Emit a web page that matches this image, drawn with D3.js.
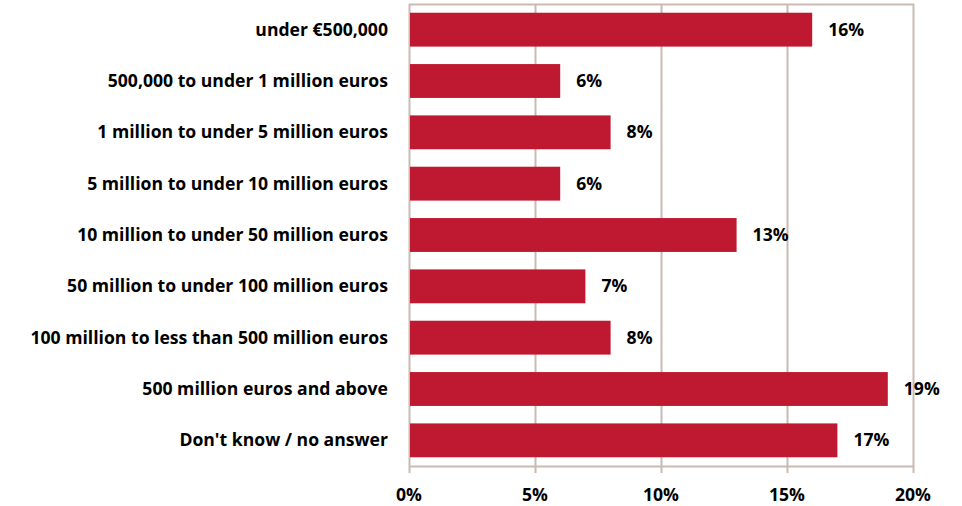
<!DOCTYPE html>
<html>
<head>
<meta charset="utf-8">
<script src="https://cdn.jsdelivr.net/npm/d3@7"></script>
<style>
  body { margin: 0; background: #fff; }
  text { font-family: "Open Sans", Lato, sans-serif; font-weight: bold; fill: #000; }
</style>
</head>
<body>
<div id="container"></div>
<script>
let w = 962;
let h = 506;

let categories = [
  "under €500,000",
  "500,000 to under 1 million euros",
  "1 million to under 5 million euros",
  "5 million to under 10 million euros",
  "10 million to under 50 million euros",
  "50 million to under 100 million euros",
  "100 million to less than 500 million euros",
  "500 million euros and above",
  "Don't know / no answer"
];
let values = [16, 6, 8, 6, 13, 7, 8, 19, 17];
let ticks = [0, 5, 10, 15, 20];

let margin = { top: 4, right: 49, bottom: 40, left: 409 };
let fontSize = "17.6px";

let svg = d3.select("#container").append("svg")
            .attr("width", w)
            .attr("height", h);

let xScale = d3.scaleLinear()
               .domain([0, 20])
               .range([margin.left, w - margin.right]);

let yScale = d3.scaleBand()
               .domain(categories)
               .range([margin.top, h - margin.bottom])
               .paddingInner(0.34)
               .paddingOuter(0.17);

let gridColor = "#c9bab2";

// vertical gridlines + frame
svg.append("g")
   .selectAll("line")
   .data(ticks)
   .enter()
   .append("line")
   .attr("x1", d => xScale(d) + 0.5)
   .attr("x2", d => xScale(d) + 0.5)
   .attr("y1", margin.top)
   .attr("y2", h - margin.bottom + 7)
   .attr("stroke", gridColor)
   .attr("stroke-width", 2);

svg.append("line")
   .attr("x1", xScale(0))
   .attr("x2", xScale(20) + 1)
   .attr("y1", margin.top + 0.5)
   .attr("y2", margin.top + 0.5)
   .attr("stroke", gridColor)
   .attr("stroke-width", 2);

svg.append("line")
   .attr("x1", xScale(0))
   .attr("x2", xScale(20) + 1)
   .attr("y1", h - margin.bottom + 0.5)
   .attr("y2", h - margin.bottom + 0.5)
   .attr("stroke", gridColor)
   .attr("stroke-width", 2);

// bars
svg.append("g")
   .selectAll("rect")
   .data(values)
   .enter()
   .append("rect")
   .attr("x", xScale(0) + 1)
   .attr("y", (d, i) => yScale(categories[i]))
   .attr("width", d => xScale(d) - xScale(0) - 1)
   .attr("height", yScale.bandwidth())
   .attr("fill", "#bf1932");

// value labels
svg.append("g")
   .selectAll("text")
   .data(values)
   .enter()
   .append("text")
   .attr("x", d => xScale(d) + 16)
   .attr("y", (d, i) => yScale(categories[i]) + yScale.bandwidth() / 2)
   .attr("dy", "0.35em")
   .style("font-size", fontSize)
   .text(d => d + "%");

// category labels
svg.append("g")
   .selectAll("text")
   .data(categories)
   .enter()
   .append("text")
   .attr("x", 388)
   .attr("y", d => yScale(d) + yScale.bandwidth() / 2)
   .attr("dy", "0.35em")
   .attr("text-anchor", "end")
   .style("font-size", fontSize)
   .text(d => d);

// x tick labels
svg.append("g")
   .selectAll("text")
   .data(ticks)
   .enter()
   .append("text")
   .attr("x", d => xScale(d))
   .attr("y", 495)
   .attr("dy", "0.35em")
   .attr("text-anchor", "middle")
   .style("font-size", fontSize)
   .text(d => d + "%");
</script>
</body>
</html>
